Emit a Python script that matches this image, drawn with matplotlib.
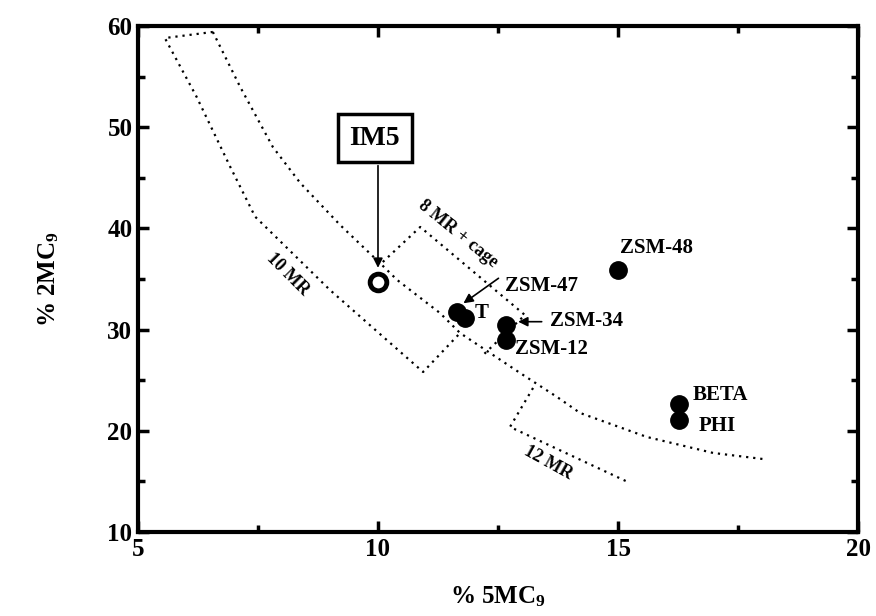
import matplotlib
matplotlib.use("Agg")
import matplotlib.pyplot as plt
from matplotlib.ticker import MultipleLocator

plt.rcParams['font.family'] = ['Liberation Serif', 'DejaVu Serif']
plt.rcParams['font.weight'] = 'bold'
plt.rcParams['mathtext.fontset'] = 'custom'
plt.rcParams['mathtext.rm'] = 'Liberation Serif:bold'
plt.rcParams['mathtext.it'] = 'Liberation Serif:bold'
plt.rcParams['mathtext.bf'] = 'Liberation Serif:bold'

# zeolites (% 5MC9, % 2MC9)
zeolites = ['ZSM-48', 'ZSM-47', 'T', 'ZSM-34', 'ZSM-12', 'BETA', 'PHI']
x_5mc9 = [15.0, 11.64, 11.81, 12.66, 12.66, 16.27, 16.27]
y_2mc9 = [35.9, 31.7, 31.1, 30.5, 29.0, 22.6, 21.1]

# IM5
im5_x = 10.0
im5_y = 34.7

# region boundaries
mr10_x = [6.56, 5.56, 6.22, 6.92, 7.44, 9.00, 10.94, 11.71]
mr10_y = [59.41, 58.81, 53.01, 46.10, 41.16, 33.91, 25.81, 29.66]

upper_x = [6.56, 7.13, 7.81, 8.38, 9.21, 10.04, 10.40, 11.29, 11.71, 12.96,
           13.73, 14.21, 15.60, 16.98, 18.02]
upper_y = [59.41, 53.97, 48.04, 44.49, 40.34, 36.58, 34.90, 31.64, 29.66, 25.71,
           23.34, 21.76, 19.39, 17.81, 17.21]

cage8_x = [10.10, 10.88, 13.06, 12.19]
cage8_y = [36.68, 40.14, 31.44, 27.49]

mr12_x = [13.23, 12.75, 15.25]
mr12_y = [24.23, 20.38, 14.84]

fig = plt.figure(figsize=(8.76, 6.16), dpi=100)
ax = fig.add_axes([0.1575, 0.1364, 0.822, 0.8214])

dot = dict(color='black', linestyle=(0, (1, 2.2)), linewidth=1.6)
ax.plot(mr10_x, mr10_y, **dot)
ax.plot(upper_x, upper_y, **dot)
ax.plot(cage8_x, cage8_y, **dot)
ax.plot(mr12_x, mr12_y, **dot)

ax.plot(x_5mc9, y_2mc9, 'o', color='black', markersize=12.5, zorder=5)
ax.plot([im5_x], [im5_y], 'o', markerfacecolor='white', markeredgecolor='black',
        markersize=12, markeredgewidth=3.5, zorder=5)

fs = 15
ax.text(15.04, 38.1, 'ZSM-48', fontsize=fs, fontweight='bold', va='center')
ax.text(12.65, 34.3, 'ZSM-47', fontsize=fs, fontweight='bold', va='center')
ax.text(12.02, 31.6, 'T', fontsize=fs, fontweight='bold', va='center')
ax.text(13.58, 30.85, 'ZSM-34', fontsize=fs, fontweight='bold', va='center')
ax.text(12.85, 28.1, 'ZSM-12', fontsize=fs, fontweight='bold', va='center')
ax.text(16.56, 23.5, 'BETA', fontsize=fs, fontweight='bold', va='center')
ax.text(16.67, 20.5, 'PHI', fontsize=fs, fontweight='bold', va='center')

arrow = dict(arrowstyle='-|>', color='black', lw=1.2, mutation_scale=14,
             shrinkA=0, shrinkB=0)
ax.annotate('', xy=(11.78, 32.6), xytext=(12.51, 35.07), arrowprops=arrow)
ax.annotate('', xy=(12.92, 30.78), xytext=(13.41, 30.78), arrowprops=arrow)
ax.annotate('', xy=(im5_x, 36.1), xytext=(im5_x, 46.2), arrowprops=arrow)
ax.text(9.93, 48.9, 'IM5', fontsize=20, fontweight='bold', ha='center',
        va='center', zorder=6,
        bbox=dict(boxstyle='square,pad=0.42', facecolor='white',
                  edgecolor='black', linewidth=2.5))

ax.text(11.67, 39.5, '8 MR + cage', fontsize=13, fontweight='bold',
        rotation=-39, ha='center', va='center', rotation_mode='anchor')
ax.text(8.12, 35.5, '10 MR', fontsize=13, fontweight='bold',
        rotation=-45, ha='center', va='center', rotation_mode='anchor')
ax.text(13.54, 16.8, '12 MR', fontsize=13, fontweight='bold',
        rotation=-29, ha='center', va='center', rotation_mode='anchor')

ax.set_xlim(5, 20)
ax.set_ylim(10, 60)
ax.xaxis.set_major_locator(MultipleLocator(5))
ax.xaxis.set_minor_locator(MultipleLocator(2.5))
ax.yaxis.set_major_locator(MultipleLocator(10))
ax.yaxis.set_minor_locator(MultipleLocator(5))
ax.tick_params(which='both', direction='in', top=True, right=True, width=2.5)
ax.tick_params(which='major', length=8, labelsize=18, pad=4)
ax.tick_params(which='minor', length=5)
for lab in ax.get_xticklabels() + ax.get_yticklabels():
    lab.set_fontweight('bold')
for sp in ax.spines.values():
    sp.set_linewidth(3)

ax.set_xlabel('% 5MC$_9$', fontsize=18, fontweight='bold', labelpad=17)
ax.set_ylabel('% 2MC$_9$', fontsize=18, fontweight='bold', labelpad=33)

fig.savefig('out.png', dpi=100)
